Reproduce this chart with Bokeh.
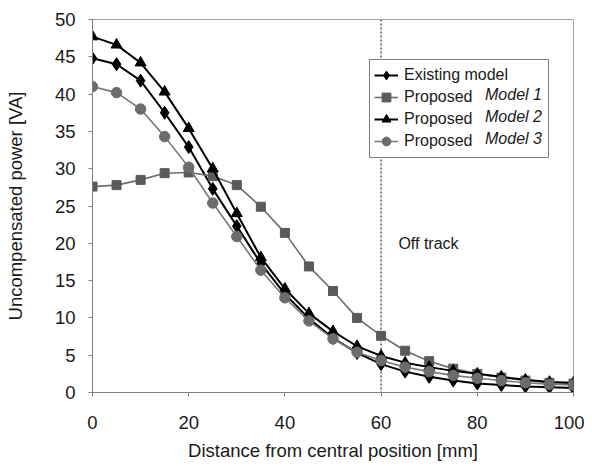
from bokeh.plotting import figure
from bokeh.models import Legend, LegendItem, Span, Label, Range1d, FixedTicker, BoxAnnotation
from bokeh.embed import file_html
from bokeh.resources import INLINE

# ---- data ----
distance_mm = [0, 5, 10, 15, 20, 25, 30, 35, 40, 45, 50, 55, 60, 65, 70, 75, 80, 85, 90, 95, 100]
existing = [44.8, 44.0, 41.8, 37.5, 32.9, 27.3, 22.3, 17.3, 13.2, 9.9, 7.3, 5.3, 3.8, 2.8, 2.1, 1.6, 1.2, 1.0, 0.8, 0.7, 0.6]
model1 = [27.6, 27.8, 28.5, 29.4, 29.5, 29.0, 27.8, 24.9, 21.4, 16.9, 13.6, 10.0, 7.6, 5.6, 4.2, 3.2, 2.5, 2.0, 1.6, 1.3, 1.2]
model2 = [47.7, 46.6, 44.2, 40.3, 35.4, 30.0, 24.0, 18.1, 13.9, 10.6, 8.2, 6.2, 4.9, 4.0, 3.4, 2.9, 2.5, 2.1, 1.7, 1.4, 1.3]
model3 = [41.0, 40.2, 38.0, 34.3, 30.2, 25.4, 20.9, 16.4, 12.7, 9.6, 7.2, 5.4, 4.3, 3.4, 2.8, 2.3, 1.9, 1.6, 1.3, 1.1, 1.0]
x_ticks = [0, 20, 40, 60, 80, 100]
y_ticks = [0, 5, 10, 15, 20, 25, 30, 35, 40, 45, 50]
off_track_at = 60
legend_prefix = "Proposed"
legend_italic = ["Model 1", "Model 2", "Model 3"]

FONT = "Liberation Sans"
W, H = 584, 466
BL, BR, BT, BB = 92, 11, 19, 74
X0, X1, Y0, Y1 = 0, 100, 0, 50

p = figure(width=W, height=H, output_backend="svg", toolbar_location=None,
           x_range=Range1d(X0, X1), y_range=Range1d(Y0, Y1),
           min_border_left=BL, min_border_right=BR, min_border_top=BT, min_border_bottom=BB)
p.background_fill_color = "white"
p.border_fill_color = "white"
p.outline_line_color = "#a6a6a6"
p.outline_line_width = 1
p.xgrid.visible = False
p.ygrid.visible = False

for ax in (p.xaxis[0], p.yaxis[0]):
    ax.axis_line_color = "#7f7f7f"
    ax.major_tick_line_color = "#7f7f7f"
    ax.major_tick_out = 4
    ax.major_tick_in = 0
    ax.minor_tick_line_color = None
    ax.major_label_text_font = FONT
    ax.major_label_text_font_size = "18.5px"
    ax.major_label_text_color = "#1a1a1a"
    ax.axis_label_text_font = FONT
    ax.axis_label_text_font_size = "18.5px"
    ax.axis_label_text_font_style = "normal"
    ax.axis_label_text_color = "#1a1a1a"

p.xaxis.ticker = FixedTicker(ticks=x_ticks)
p.yaxis.ticker = FixedTicker(ticks=y_ticks)
p.xaxis.axis_label = "Distance from central position [mm]"
p.yaxis.axis_label = "Uncompensated power [VA]"
p.xaxis.major_label_standoff = 19
p.yaxis.major_label_standoff = 13
p.xaxis.axis_label_standoff = 8
p.yaxis.axis_label_standoff = 26

# legend geometry (screen units, relative to the frame's bottom-left)
frame_w = W - BL - BR
frame_h = H - BT - BB
leg_x, leg_y = 277, 235
pad, item_h, glyph_w, standoff, label_w = 5, 22, 24, 6, 139
legend_h = 2 * pad + 4 * item_h
legend_w = 179


def dx(sx):
    return X0 + sx / frame_w * (X1 - X0)


def dy(sy):
    return Y0 + sy / frame_h * (Y1 - Y0)


# off-track marker (under everything), hidden behind the legend box
p.add_layout(Span(location=off_track_at, dimension="height", line_color="#7f7f7f",
                  line_width=2, line_dash="2 2", level="underlay"))
p.add_layout(BoxAnnotation(left=dx(leg_x), right=dx(leg_x + legend_w), bottom=dy(leg_y),
                           top=dy(leg_y + legend_h), fill_color="white", fill_alpha=1,
                           line_color="#7f7f7f", line_width=1, line_alpha=1, level="underlay"))
p.add_layout(Label(x=off_track_at + 3.6, y=20, text="Off track", text_font=FONT,
                   text_font_size="16px", text_color="#1a1a1a", text_baseline="middle"))

# series
l0 = p.line(distance_mm, existing, line_color="#000000", line_width=2)
m0 = p.scatter(distance_mm, existing, marker="diamond", size=13, fill_color="#000000", line_color="#000000")
l1 = p.line(distance_mm, model1, line_color="#6e6e6e", line_width=1.6)
m1 = p.scatter(distance_mm, model1, marker="square", size=9, fill_color="#5a5a5a", line_color="#5a5a5a")
l2 = p.line(distance_mm, model2, line_color="#000000", line_width=2)
m2 = p.scatter(distance_mm, model2, marker="triangle", size=11, fill_color="#000000", line_color="#000000")
l3 = p.line(distance_mm, model3, line_color="#7a7a7a", line_width=1.6)
m3 = p.scatter(distance_mm, model3, marker="circle", size=10.5, fill_color="#6c6c6c", line_color="#6c6c6c")

legend = Legend(items=[
    LegendItem(label="Existing model", renderers=[l0, m0]),
    LegendItem(label=legend_prefix, renderers=[l1, m1]),
    LegendItem(label=legend_prefix, renderers=[l2, m2]),
    LegendItem(label=legend_prefix, renderers=[l3, m3]),
], location=(leg_x, leg_y), orientation="vertical",
    border_line_color="#7f7f7f", border_line_width=1, border_line_alpha=0,
    background_fill_alpha=0, padding=pad, spacing=0, margin=0,
    glyph_width=glyph_w, glyph_height=item_h, label_height=item_h, label_width=label_w,
    label_standoff=standoff, label_text_font=FONT, label_text_font_size="16px",
    label_text_color="#1a1a1a")
p.add_layout(legend, "center")

# italic parts of the legend labels, placed right after "Proposed "
sx = leg_x + pad + glyph_w + standoff + 80.5
for i, txt in enumerate(legend_italic):
    sy = leg_y + legend_h - pad - item_h * (i + 1.5) + 3
    p.add_layout(Label(x=dx(sx), y=dy(sy), text=txt, text_font=FONT, text_font_size="16px",
                       text_font_style="italic", text_color="#1a1a1a", text_baseline="middle"))

open("out.html", "w").write(file_html(p, INLINE))
